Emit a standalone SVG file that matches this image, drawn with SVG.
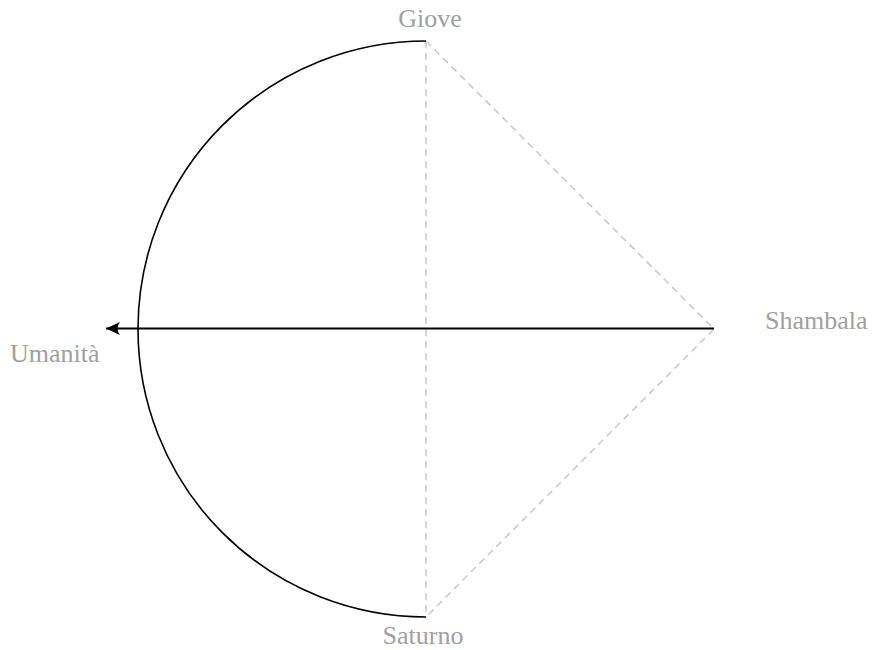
<svg xmlns="http://www.w3.org/2000/svg" width="873" height="650" viewBox="0 0 873 650">
<defs>
<style>
.lbl{font-family:"Liberation Serif","Times New Roman",serif;font-size:26px;fill:#a0a0a0}
.dash{fill:none;stroke:#c8c8c8;stroke-width:1.5;stroke-dasharray:7 5}
.solid{fill:none;stroke:#000;stroke-width:1.6}
</style>
<marker id="ah" markerWidth="16" markerHeight="14" refX="14" refY="7" orient="auto" markerUnits="userSpaceOnUse">
<path d="M14,7 L0,0.5 Q5,7 0,13.5 Z" fill="#000"/>
</marker>
</defs>
<g id="connectors">
<path class="dash" d="M426,41 L426,617"/>
<path class="dash" d="M426,41 L714,329 L426,617"/>
<path class="solid" d="M426,41 A288,288 0 0 0 426,617"/>
<line x1="714" y1="328.5" x2="106" y2="328.5" stroke="#000" stroke-width="2" marker-end="url(#ah)"/>
</g>
<g id="giove"><text class="lbl" x="430" y="27" text-anchor="middle">Giove</text></g>
<g id="shambala"><text class="lbl" x="765" y="329">Shambala</text></g>
<g id="umanita"><text class="lbl" x="10" y="362">Umanità</text></g>
<g id="saturno"><text class="lbl" x="423" y="644" text-anchor="middle">Saturno</text></g>
</svg>
